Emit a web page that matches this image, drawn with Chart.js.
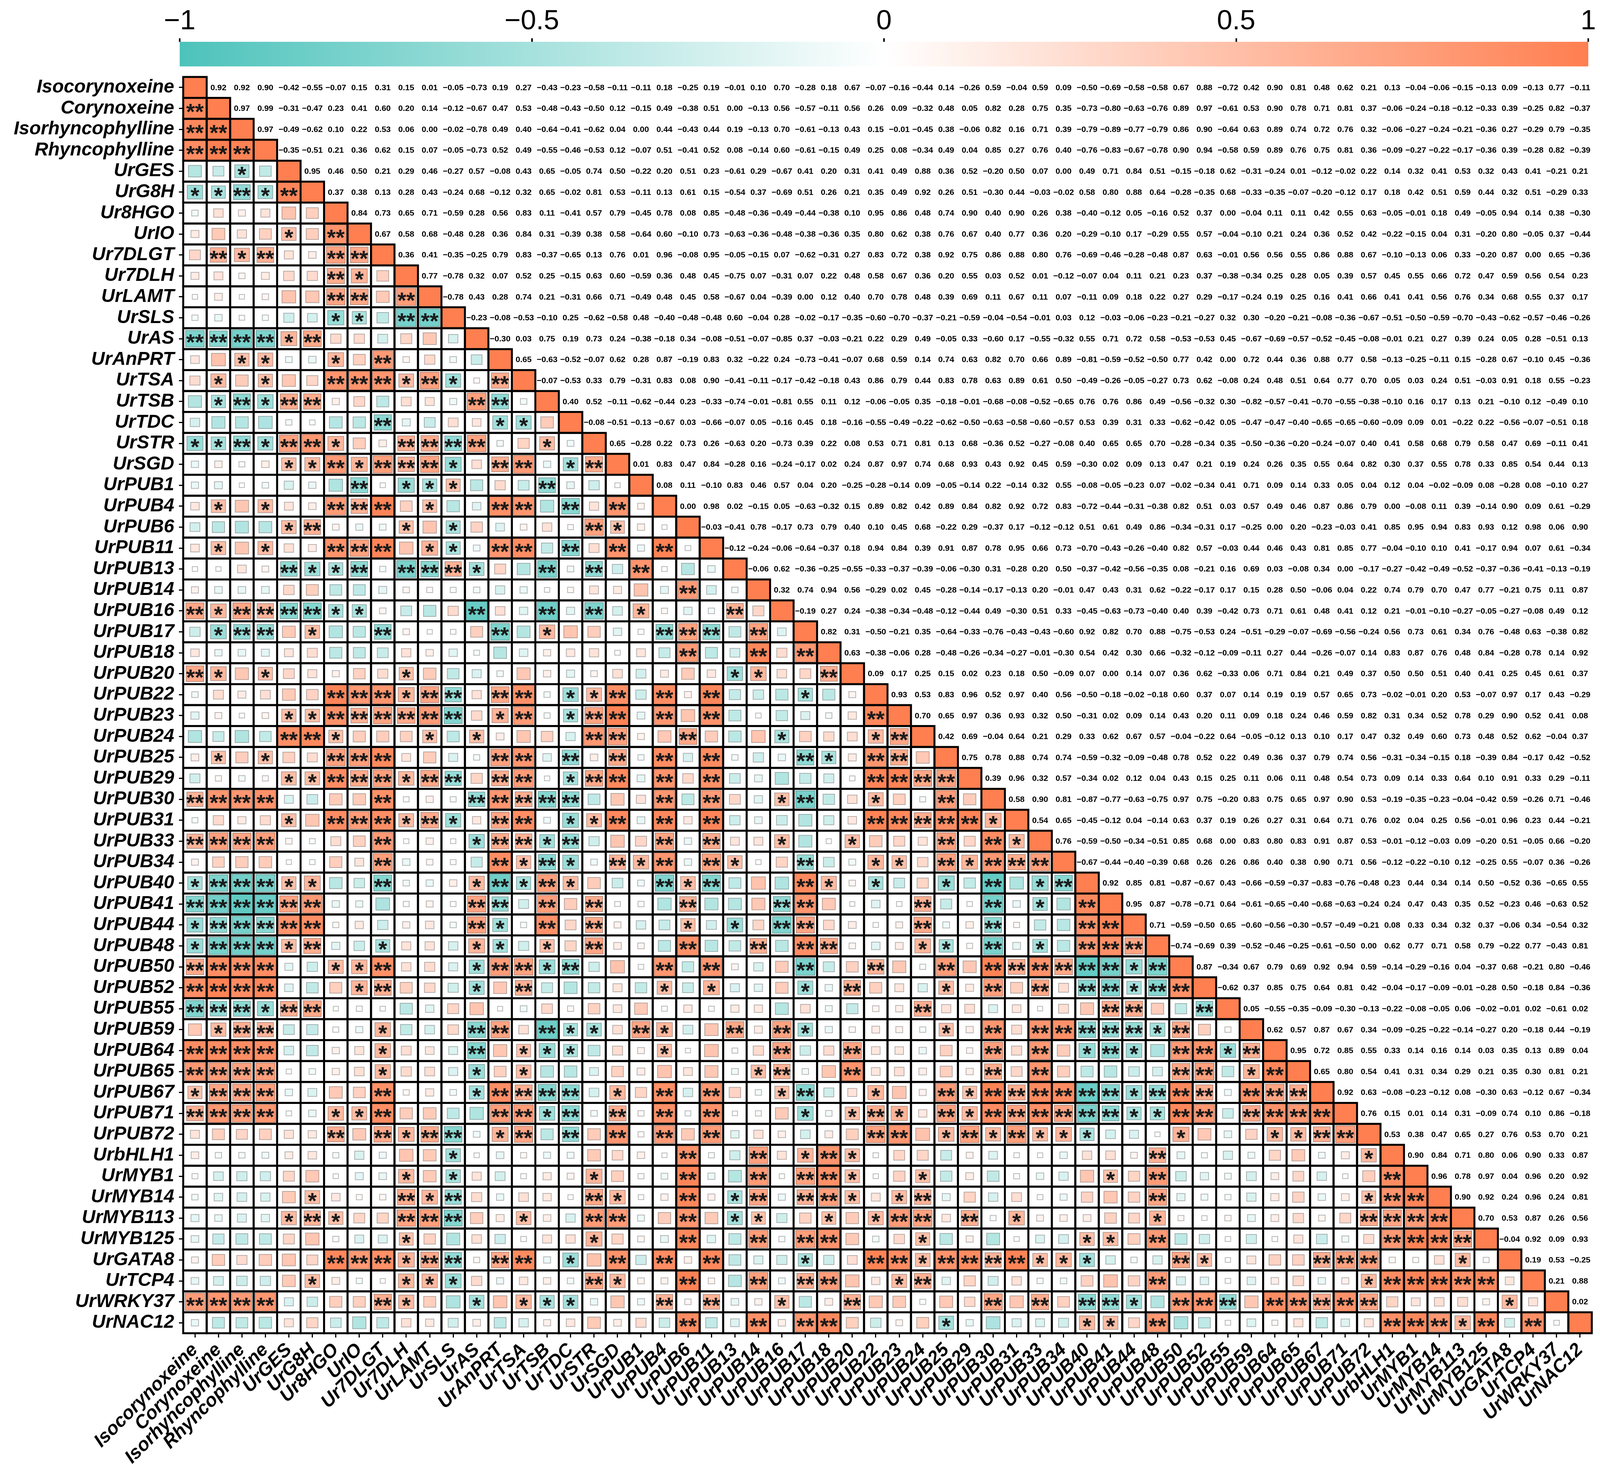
<!DOCTYPE html>
<html>
<head>
<meta charset="utf-8">
<script src="https://cdn.jsdelivr.net/npm/chart.js@4.4.1/dist/chart.umd.min.js"></script>
<style>
html,body{margin:0;padding:0;background:#ffffff;}
#wrap{position:relative;width:4102px;height:3758px;background:#ffffff;}
#main{position:absolute;left:0;top:0;}
#bar{position:absolute;left:0;top:0;}
</style>
</head>
<body>
<div id="wrap">
<canvas id="main" width="4102" height="3758"></canvas>
<canvas id="bar" width="4102" height="185"></canvas>
</div>
<script>
// ---------- data ----------
const variables = ["Isocorynoxeine","Corynoxeine","Isorhyncophylline","Rhyncophylline","UrGES","UrG8H","Ur8HGO","UrIO","Ur7DLGT","Ur7DLH","UrLAMT","UrSLS","UrAS","UrAnPRT","UrTSA","UrTSB","UrTDC","UrSTR","UrSGD","UrPUB1","UrPUB4","UrPUB6","UrPUB11","UrPUB13","UrPUB14","UrPUB16","UrPUB17","UrPUB18","UrPUB20","UrPUB22","UrPUB23","UrPUB24","UrPUB25","UrPUB29","UrPUB30","UrPUB31","UrPUB33","UrPUB34","UrPUB40","UrPUB41","UrPUB44","UrPUB48","UrPUB50","UrPUB52","UrPUB55","UrPUB59","UrPUB64","UrPUB65","UrPUB67","UrPUB71","UrPUB72","UrbHLH1","UrMYB1","UrMYB14","UrMYB113","UrMYB125","UrGATA8","UrTCP4","UrWRKY37","UrNAC12"];

// upper-triangle correlations: rowNN holds r(row NN, columns NN+1 .. 60)
const row01 = [0.92,0.92,0.90,-0.42,-0.55,-0.07,0.15,0.31,0.15,0.01,-0.05,-0.73,0.19,0.27,-0.43,-0.23,-0.58,-0.11,-0.11,0.18, -0.25,0.19,-0.01,0.10,0.70,-0.28,0.18,0.67,-0.07,-0.16,-0.44,0.14,-0.26,0.59,-0.04,0.59,0.09,-0.50,-0.69,-0.58, -0.58,0.67,0.88,-0.72,0.42,0.90,0.81,0.48,0.62,0.21,0.13,-0.04,-0.06,-0.15,-0.13,0.09,-0.13,0.77,-0.11];
const row02 = [0.97,0.99,-0.31,-0.47,0.23,0.41,0.60,0.20,0.14,-0.12,-0.67,0.47,0.53,-0.48,-0.43,-0.50,0.12,-0.15,0.49, -0.38,0.51,0.00,-0.13,0.56,-0.57,-0.11,0.56,0.26,0.09,-0.32,0.48,0.05,0.82,0.28,0.75,0.35,-0.73,-0.80,-0.63, -0.76,0.89,0.97,-0.61,0.53,0.90,0.78,0.71,0.81,0.37,-0.06,-0.24,-0.18,-0.12,-0.33,0.39,-0.25,0.82,-0.37];
const row03 = [0.97,-0.49,-0.62,0.10,0.22,0.53,0.06,0.00,-0.02,-0.78,0.49,0.40,-0.64,-0.41,-0.62,0.04,0.00,0.44, -0.43,0.44,0.19,-0.13,0.70,-0.61,-0.13,0.43,0.15,-0.01,-0.45,0.38,-0.06,0.82,0.16,0.71,0.39,-0.79,-0.89,-0.77, -0.79,0.86,0.90,-0.64,0.63,0.89,0.74,0.72,0.76,0.32,-0.06,-0.27,-0.24,-0.21,-0.36,0.27,-0.29,0.79,-0.35];
const row04 = [-0.35,-0.51,0.21,0.36,0.62,0.15,0.07,-0.05,-0.73,0.52,0.49,-0.55,-0.46,-0.53,0.12,-0.07,0.51, -0.41,0.52,0.08,-0.14,0.60,-0.61,-0.15,0.49,0.25,0.08,-0.34,0.49,0.04,0.85,0.27,0.76,0.40,-0.76,-0.83,-0.67, -0.78,0.90,0.94,-0.58,0.59,0.89,0.76,0.75,0.81,0.36,-0.09,-0.27,-0.22,-0.17,-0.36,0.39,-0.28,0.82,-0.39];
const row05 = [0.95,0.46,0.50,0.21,0.29,0.46,-0.27,0.57,-0.08,0.43,0.65,-0.05,0.74,0.50,-0.22,0.20, 0.51,0.23,-0.61,0.29,-0.67,0.41,0.20,0.31,0.41,0.49,0.88,0.36,0.52,-0.20,0.50,0.07,0.00,0.49,0.71,0.84, 0.51,-0.15,-0.18,0.62,-0.31,-0.24,0.01,-0.12,-0.02,0.22,0.14,0.32,0.41,0.53,0.32,0.43,0.41,-0.21,0.21];
const row06 = [0.37,0.38,0.13,0.28,0.43,-0.24,0.68,-0.12,0.32,0.65,-0.02,0.81,0.53,-0.11,0.13, 0.61,0.15,-0.54,0.37,-0.69,0.51,0.26,0.21,0.35,0.49,0.92,0.26,0.51,-0.30,0.44,-0.03,-0.02,0.58,0.80,0.88, 0.64,-0.28,-0.35,0.68,-0.33,-0.35,-0.07,-0.20,-0.12,0.17,0.18,0.42,0.51,0.59,0.44,0.32,0.51,-0.29,0.33];
const row07 = [0.84,0.73,0.65,0.71,-0.59,0.28,0.56,0.83,0.11,-0.41,0.57,0.79,-0.45,0.78, 0.08,0.85,-0.48,-0.36,-0.49,-0.44,-0.38,0.10,0.95,0.86,0.48,0.74,0.90,0.40,0.90,0.26,0.38,-0.40,-0.12,0.05, -0.16,0.52,0.37,0.00,-0.04,0.11,0.11,0.42,0.55,0.63,-0.05,-0.01,0.18,0.49,-0.05,0.94,0.14,0.38,-0.30];
const row08 = [0.67,0.58,0.68,-0.48,0.28,0.36,0.84,0.31,-0.39,0.38,0.58,-0.64,0.60, -0.10,0.73,-0.63,-0.36,-0.48,-0.38,-0.36,0.35,0.80,0.62,0.38,0.76,0.67,0.40,0.77,0.36,0.20,-0.29,-0.10,0.17, -0.29,0.55,0.57,-0.04,-0.10,0.21,0.24,0.36,0.52,0.42,-0.22,-0.15,0.04,0.31,-0.20,0.80,-0.05,0.37,-0.44];
const row09 = [0.36,0.41,-0.35,-0.25,0.79,0.83,-0.37,-0.65,0.13,0.76,0.01,0.96, -0.08,0.95,-0.05,-0.15,0.07,-0.62,-0.31,0.27,0.83,0.72,0.38,0.92,0.75,0.86,0.88,0.80,0.76,-0.69,-0.46,-0.28, -0.48,0.87,0.63,-0.01,0.56,0.56,0.55,0.86,0.88,0.67,-0.10,-0.13,0.06,0.33,-0.20,0.87,0.00,0.65,-0.36];
const row10 = [0.77,-0.78,0.32,0.07,0.52,0.25,-0.15,0.63,0.60,-0.59,0.36, 0.48,0.45,-0.75,0.07,-0.31,0.07,0.22,0.48,0.58,0.67,0.36,0.20,0.55,0.03,0.52,0.01,-0.12,-0.07,0.04,0.11, 0.21,0.23,0.37,-0.38,-0.34,0.25,0.28,0.05,0.39,0.57,0.45,0.55,0.66,0.72,0.47,0.59,0.56,0.54,0.23];
const row11 = [-0.78,0.43,0.28,0.74,0.21,-0.31,0.66,0.71,-0.49,0.48, 0.45,0.58,-0.67,0.04,-0.39,0.00,0.12,0.40,0.70,0.78,0.48,0.39,0.69,0.11,0.67,0.11,0.07,-0.11,0.09,0.18, 0.22,0.27,0.29,-0.17,-0.24,0.19,0.25,0.16,0.41,0.66,0.41,0.41,0.56,0.76,0.34,0.68,0.55,0.37,0.17];
const row12 = [-0.23,-0.08,-0.53,-0.10,0.25,-0.62,-0.58,0.48,-0.40, -0.48,-0.48,0.60,-0.04,0.28,-0.02,-0.17,-0.35,-0.60,-0.70,-0.37,-0.21,-0.59,-0.04,-0.54,-0.01,0.03,0.12,-0.03,-0.06, -0.23,-0.21,-0.27,0.32,0.30,-0.20,-0.21,-0.08,-0.36,-0.67,-0.51,-0.50,-0.59,-0.70,-0.43,-0.62,-0.57,-0.46,-0.26];
const row13 = [-0.30,0.03,0.75,0.19,0.73,0.24,-0.38,-0.18, 0.34,-0.08,-0.51,-0.07,-0.85,0.37,-0.03,-0.21,0.22,0.29,0.49,-0.05,0.33,-0.60,0.17,-0.55,-0.32,0.55,0.71,0.72, 0.58,-0.53,-0.53,0.45,-0.67,-0.69,-0.57,-0.52,-0.45,-0.08,-0.01,0.21,0.27,0.39,0.24,0.05,0.28,-0.51,0.13];
const row14 = [0.65,-0.63,-0.52,-0.07,0.62,0.28,0.87, -0.19,0.83,0.32,-0.22,0.24,-0.73,-0.41,-0.07,0.68,0.59,0.14,0.74,0.63,0.82,0.70,0.66,0.89,-0.81,-0.59,-0.52, -0.50,0.77,0.42,0.00,0.72,0.44,0.36,0.88,0.77,0.58,-0.13,-0.25,-0.11,0.15,-0.28,0.67,-0.10,0.45,-0.36];
const row15 = [-0.07,-0.53,0.33,0.79,-0.31,0.83, 0.08,0.90,-0.41,-0.11,-0.17,-0.42,-0.18,0.43,0.86,0.79,0.44,0.83,0.78,0.63,0.89,0.61,0.50,-0.49,-0.26,-0.05, -0.27,0.73,0.62,-0.08,0.24,0.48,0.51,0.64,0.77,0.70,0.05,0.03,0.24,0.51,-0.03,0.91,0.18,0.55,-0.23];
const row16 = [0.40,0.52,-0.11,-0.62,-0.44, 0.23,-0.33,-0.74,-0.01,-0.81,0.55,0.11,0.12,-0.06,-0.05,0.35,-0.18,-0.01,-0.68,-0.08,-0.52,-0.65,0.76,0.76,0.86, 0.49,-0.56,-0.32,0.30,-0.82,-0.57,-0.41,-0.70,-0.55,-0.38,-0.10,0.16,0.17,0.13,0.21,-0.10,0.12,-0.49,0.10];
const row17 = [-0.08,-0.51,-0.13,-0.67, 0.03,-0.66,-0.07,0.05,-0.16,0.45,0.18,-0.16,-0.55,-0.49,-0.22,-0.62,-0.50,-0.63,-0.58,-0.60,-0.57,0.53,0.39,0.31, 0.33,-0.62,-0.42,0.05,-0.47,-0.47,-0.40,-0.65,-0.65,-0.60,-0.09,0.09,0.01,-0.22,0.22,-0.56,-0.07,-0.51,0.18];
const row18 = [0.65,-0.28,0.22, 0.73,0.26,-0.63,0.20,-0.73,0.39,0.22,0.08,0.53,0.71,0.81,0.13,0.68,-0.36,0.52,-0.27,-0.08,0.40,0.65,0.65, 0.70,-0.28,-0.34,0.35,-0.50,-0.36,-0.20,-0.24,-0.07,0.40,0.41,0.58,0.68,0.79,0.58,0.47,0.69,-0.11,0.41];
const row19 = [0.01,0.83, 0.47,0.84,-0.28,0.16,-0.24,-0.17,0.02,0.24,0.87,0.97,0.74,0.68,0.93,0.43,0.92,0.45,0.59,-0.30,0.02,0.09, 0.13,0.47,0.21,0.19,0.24,0.26,0.35,0.55,0.64,0.82,0.30,0.37,0.55,0.78,0.33,0.85,0.54,0.44,0.13];
const row20 = [0.08, 0.11,-0.10,0.83,0.46,0.57,0.04,0.20,-0.25,-0.28,-0.14,0.09,-0.05,-0.14,0.22,-0.14,0.32,0.55,-0.08,-0.05,-0.23, 0.07,-0.02,-0.34,0.41,0.71,0.09,0.14,0.33,0.05,0.04,0.12,0.04,-0.02,-0.09,0.08,-0.28,0.08,-0.10,0.27];
const row21 = [0.00,0.98,0.02,-0.15,0.05,-0.63,-0.32,0.15,0.89,0.82,0.42,0.89,0.84,0.82,0.92,0.72,0.83,-0.72,-0.44,-0.31, -0.38,0.82,0.51,0.03,0.57,0.49,0.46,0.87,0.86,0.79,0.00,-0.08,0.11,0.39,-0.14,0.90,0.09,0.61,-0.29];
const row22 = [-0.03,-0.41,0.78,-0.17,0.73,0.79,0.40,0.10,0.45,0.68,-0.22,0.29,-0.37,0.17,-0.12,-0.12,0.51,0.61,0.49, 0.86,-0.34,-0.31,0.17,-0.25,0.00,0.20,-0.23,-0.03,0.41,0.85,0.95,0.94,0.83,0.93,0.12,0.98,0.06,0.90];
const row23 = [-0.12,-0.24,-0.06,-0.64,-0.37,0.18,0.94,0.84,0.39,0.91,0.87,0.78,0.95,0.66,0.73,-0.70,-0.43,-0.26, -0.40,0.82,0.57,-0.03,0.44,0.46,0.43,0.81,0.85,0.77,-0.04,-0.10,0.10,0.41,-0.17,0.94,0.07,0.61,-0.34];
const row24 = [-0.06,0.62,-0.36,-0.25,-0.55,-0.33,-0.37,-0.39,-0.06,-0.30,0.31,-0.28,0.20,0.50,-0.37,-0.42,-0.56, -0.35,0.08,-0.21,0.16,0.69,0.03,-0.08,0.34,0.00,-0.17,-0.27,-0.42,-0.49,-0.52,-0.37,-0.36,-0.41,-0.13,-0.19];
const row25 = [0.32,0.74,0.94,0.56,-0.29,0.02,0.45,-0.28,-0.14,-0.17,-0.13,0.20,-0.01,0.47,0.43,0.31, 0.62,-0.22,-0.17,0.17,0.15,0.28,0.50,-0.06,0.04,0.22,0.74,0.79,0.70,0.47,0.77,-0.21,0.75,0.11,0.87];
const row26 = [-0.19,0.27,0.24,-0.38,-0.34,-0.48,-0.12,-0.44,0.49,-0.30,0.51,0.33,-0.45,-0.63,-0.73, -0.40,0.40,0.39,-0.42,0.73,0.71,0.61,0.48,0.41,0.12,0.21,-0.01,-0.10,-0.27,-0.05,-0.27,-0.08,0.49,0.12];
const row27 = [0.82,0.31,-0.50,-0.21,0.35,-0.64,-0.33,-0.76,-0.43,-0.43,-0.60,0.92,0.82,0.70, 0.88,-0.75,-0.53,0.24,-0.51,-0.29,-0.07,-0.69,-0.56,-0.24,0.56,0.73,0.61,0.34,0.76,-0.48,0.63,-0.38,0.82];
const row28 = [0.63,-0.38,-0.06,0.28,-0.48,-0.26,-0.34,-0.27,-0.01,-0.30,0.54,0.42,0.30, 0.66,-0.32,-0.12,-0.09,-0.11,0.27,0.44,-0.26,-0.07,0.14,0.83,0.87,0.76,0.48,0.84,-0.28,0.78,0.14,0.92];
const row29 = [0.09,0.17,0.25,0.15,0.02,0.23,0.18,0.50,-0.09,0.07,0.00,0.14, 0.07,0.36,0.62,-0.33,0.06,0.71,0.84,0.21,0.49,0.37,0.50,0.50,0.51,0.40,0.41,0.25,0.45,0.61,0.37];
const row30 = [0.93,0.53,0.83,0.96,0.52,0.97,0.40,0.56,-0.50,-0.18,-0.02, -0.18,0.60,0.37,0.07,0.14,0.19,0.19,0.57,0.65,0.73,-0.02,-0.01,0.20,0.53,-0.07,0.97,0.17,0.43,-0.29];
const row31 = [0.70,0.65,0.97,0.36,0.93,0.32,0.50,-0.31,0.02,0.09, 0.14,0.43,0.20,0.11,0.09,0.18,0.24,0.46,0.59,0.82,0.31,0.34,0.52,0.78,0.29,0.90,0.52,0.41,0.08];
const row32 = [0.42,0.69,-0.04,0.64,0.21,0.29,0.33,0.62,0.67, 0.57,-0.04,-0.22,0.64,-0.05,-0.12,0.13,0.10,0.17,0.47,0.32,0.49,0.60,0.73,0.48,0.52,0.62,-0.04,0.37];
const row33 = [0.75,0.78,0.88,0.74,0.74,-0.59,-0.32,-0.09, -0.48,0.78,0.52,0.22,0.49,0.36,0.37,0.79,0.74,0.56,-0.31,-0.34,-0.15,0.18,-0.39,0.84,-0.17,0.42,-0.52];
const row34 = [0.39,0.96,0.32,0.57,-0.34,0.02,0.12, 0.04,0.43,0.15,0.25,0.11,0.06,0.11,0.48,0.54,0.73,0.09,0.14,0.33,0.64,0.10,0.91,0.33,0.29,-0.11];
const row35 = [0.58,0.90,0.81,-0.87,-0.77,-0.63, -0.75,0.97,0.75,-0.20,0.83,0.75,0.65,0.97,0.90,0.53,-0.19,-0.35,-0.23,-0.04,-0.42,0.59,-0.26,0.71,-0.46];
const row36 = [0.54,0.65,-0.45,-0.12,0.04, -0.14,0.63,0.37,0.19,0.26,0.27,0.31,0.64,0.71,0.76,0.02,0.04,0.25,0.56,-0.01,0.96,0.23,0.44,-0.21];
const row37 = [0.76,-0.59,-0.50,-0.34, -0.51,0.85,0.68,0.00,0.83,0.80,0.83,0.91,0.87,0.53,-0.01,-0.12,-0.03,0.09,-0.20,0.51,-0.05,0.66,-0.20];
const row38 = [-0.67,-0.44,-0.40, -0.39,0.68,0.26,0.26,0.86,0.40,0.38,0.90,0.71,0.56,-0.12,-0.22,-0.10,0.12,-0.25,0.55,-0.07,0.36,-0.26];
const row39 = [0.92,0.85, 0.81,-0.87,-0.67,0.43,-0.66,-0.59,-0.37,-0.83,-0.76,-0.48,0.23,0.44,0.34,0.14,0.50,-0.52,0.36,-0.65,0.55];
const row40 = [0.95, 0.87,-0.78,-0.71,0.64,-0.61,-0.65,-0.40,-0.68,-0.63,-0.24,0.24,0.47,0.43,0.35,0.52,-0.23,0.46,-0.63,0.52];
const row41 = [0.71,-0.59,-0.50,0.65,-0.60,-0.56,-0.30,-0.57,-0.49,-0.21,0.08,0.33,0.34,0.32,0.37,-0.06,0.34,-0.54,0.32];
const row42 = [-0.74,-0.69,0.39,-0.52,-0.46,-0.25,-0.61,-0.50,0.00,0.62,0.77,0.71,0.58,0.79,-0.22,0.77,-0.43,0.81];
const row43 = [0.87,-0.34,0.67,0.79,0.69,0.92,0.94,0.59,-0.14,-0.29,-0.16,0.04,-0.37,0.68,-0.21,0.80,-0.46];
const row44 = [-0.62,0.37,0.85,0.75,0.64,0.81,0.42,-0.04,-0.17,-0.09,-0.01,-0.28,0.50,-0.18,0.84,-0.36];
const row45 = [0.05,-0.55,-0.35,-0.09,-0.30,-0.13,-0.22,-0.08,-0.05,0.06,-0.02,-0.01,0.02,-0.61,0.02];
const row46 = [0.62,0.57,0.87,0.67,0.34,-0.09,-0.25,-0.22,-0.14,-0.27,0.20,-0.18,0.44,-0.19];
const row47 = [0.95,0.72,0.85,0.55,0.33,0.14,0.16,0.14,0.03,0.35,0.13,0.89,0.04];
const row48 = [0.65,0.80,0.54,0.41,0.31,0.34,0.29,0.21,0.35,0.30,0.81,0.21];
const row49 = [0.92,0.63,-0.08,-0.23,-0.12,0.08,-0.30,0.63,-0.12,0.67,-0.34];
const row50 = [0.76,0.15,0.01,0.14,0.31,-0.09,0.74,0.10,0.86,-0.18];
const row51 = [0.53,0.38,0.47,0.65,0.27,0.76,0.53,0.70,0.21];
const row52 = [0.90,0.84,0.71,0.80,0.06,0.90,0.33,0.87];
const row53 = [0.96,0.78,0.97,0.04,0.96,0.20,0.92];
const row54 = [0.90,0.92,0.24,0.96,0.24,0.81];
const row55 = [0.70,0.53,0.87,0.26,0.56];
const row56 = [-0.04,0.92,0.09,0.93];
const row57 = [0.19,0.53,-0.25];
const row58 = [0.21,0.88];
const row59 = [0.02];

const upperRows = [row01,row02,row03,row04,row05,row06,row07,row08,row09,row10,row11,row12,row13,row14,row15,row16,row17,row18,row19,row20,row21,row22,row23,row24,row25,row26,row27,row28,row29,row30,row31,row32,row33,row34,row35,row36,row37,row38,row39,row40,row41,row42,row43,row44,row45,row46,row47,row48,row49,row50,row51,row52,row53,row54,row55,row56,row57,row58,row59];

const colorbarTicks = [-1, -0.5, 0, 0.5, 1];
const starLevels = [0.465, 0.595];   // |r| cut-offs for "*" and "**"
// stars read off the picture where the rounded |r| sits on a cut-off (0.47 / 0.59): [row, col, number of stars]
const boundaryStars = [
  [1,35,2],[1,37,2],[4,46,2],[6,55,2],[12,34,2],[12,54,2],[14,40,2],[19,38,2],[35,57,2],
  [7,12,1],[10,20,1],[14,31,1],[31,50,1],[33,39,1],[37,39,1],[39,47,1],[43,51,1],
  [2,6,1],[10,56,1],[17,46,1],[17,47,1],[19,22,1],[25,55,1],[40,53,1],[51,54,1],
  [2,14,0],[18,57,0],[19,43,0],[25,39,0],[32,51,0]
];

// ---------- styling ----------
const FAMILY = "'Liberation Sans', Arial, sans-serif";
const NEG = [77, 195, 187];
const POS = [255, 127, 80];

function colorFor(v) {
  const t = Math.max(-1, Math.min(1, v));
  const base = t < 0 ? NEG : POS;
  const a = Math.abs(t);
  const c = base.map(ch => Math.round(255 + (ch - 255) * a));
  return `rgb(${c[0]},${c[1]},${c[2]})`;
}
function fmtSigned(v, digits) {
  const s = Math.abs(v).toFixed(digits);
  return (v < 0 && Number(s) !== 0) ? '\u2212' + s : s;
}

// ---------- build point lists ----------
const N = variables.length;
const corr = [];
for (let i = 0; i < N; i++) corr.push(new Array(N).fill(null));
const errors = [];
upperRows.forEach((vals, i) => {
  if (vals.length !== N - 1 - i) errors.push('row ' + (i + 1) + ': ' + vals.length);
  vals.forEach((v, k) => { const j = i + 1 + k; if (j < N) { corr[i][j] = v; corr[j][i] = v; } });
});
for (let i = 0; i < N; i++) corr[i][i] = 1;

const starMap = new Map(boundaryStars.map(([r, c, n]) => [r + ',' + c, n]));
function starsFor(rowA, rowB, v) {
  const key = Math.min(rowA, rowB) + ',' + Math.max(rowA, rowB);
  let n;
  if (starMap.has(key)) n = starMap.get(key);
  else { const a = Math.abs(v); n = a >= starLevels[1] ? 2 : (a >= starLevels[0] ? 1 : 0); }
  return '*'.repeat(n);
}

const lowerPoints = [];
const upperPoints = [];
for (let i = 0; i < N; i++) {
  for (let j = 0; j < N; j++) {
    const v = corr[i][j];
    if (v === null) continue;
    if (j <= i) lowerPoints.push({x: j + 1, y: i + 1, v: v, diag: i === j, stars: i === j ? '' : starsFor(i + 1, j + 1, v)});
    else upperPoints.push({x: j + 1, y: i + 1, v: v});
  }
}

// ---------- matrix drawing plugin ----------
const matrixPlugin = {
  id: 'corrMatrix',
  afterDatasetsDraw(chart) {
    const ctx = chart.ctx;
    const xs = chart.scales.x, ys = chart.scales.y;
    const cw = Math.abs(xs.getPixelForValue(1.5) - xs.getPixelForValue(0.5));
    const ch = Math.abs(ys.getPixelForValue(1.5) - ys.getPixelForValue(0.5));
    const lowMeta = chart.getDatasetMeta(0);
    const upMeta = chart.getDatasetMeta(1);
    const lowRaw = chart.data.datasets[0].data;
    const upRaw = chart.data.datasets[1].data;
    ctx.save();

    // squares and diagonal
    lowMeta.data.forEach((pt, k) => {
      const d = lowRaw[k];
      if (d.diag) {
        ctx.fillStyle = colorFor(1);
        ctx.fillRect(pt.x - cw / 2, pt.y - ch / 2, cw, ch);
        return;
      }
      const f = Math.min(1, 0.22 + 0.8 * Math.abs(d.v));
      const w = cw * f, h = ch * f;
      ctx.fillStyle = colorFor(d.v);
      ctx.fillRect(pt.x - w / 2, pt.y - h / 2, w, h);
      if (f < 1) {
        ctx.strokeStyle = 'rgba(0,0,0,0.28)';
        ctx.lineWidth = 2;
        ctx.strokeRect(pt.x - w / 2, pt.y - h / 2, w, h);
      }
    });

    // cell borders of lower triangle + diagonal
    ctx.strokeStyle = '#000';
    ctx.lineWidth = 5;
    lowMeta.data.forEach(pt => ctx.strokeRect(pt.x - cw / 2, pt.y - ch / 2, cw, ch));

    // significance stars
    ctx.fillStyle = '#1a1a1a';
    ctx.font = `bold 58px ${FAMILY}`;
    ctx.textAlign = 'center';
    ctx.textBaseline = 'alphabetic';
    const m = ctx.measureText('*');
    const off = (m.actualBoundingBoxAscent - m.actualBoundingBoxDescent) / 2;
    lowMeta.data.forEach((pt, k) => {
      const s = lowRaw[k].stars;
      if (s) ctx.fillText(s, pt.x, pt.y + off);
    });

    // coefficient text in upper triangle
    ctx.fillStyle = '#000';
    ctx.font = `bold 21px ${FAMILY}`;
    ctx.textBaseline = 'middle';
    upMeta.data.forEach((pt, k) => {
      ctx.fillText(fmtSigned(upRaw[k].v, 2), pt.x, pt.y + 1);
    });

    if (errors.length) {
      ctx.fillStyle = 'red';
      ctx.font = `bold 60px ${FAMILY}`;
      ctx.textAlign = 'left';
      ctx.fillText('DATA ERR ' + errors.join('; '), 600, 3000);
    }
    ctx.restore();
  }
};

const labelFont = {family: FAMILY, size: 48, weight: 'bold', style: 'italic'};
const tickGrid = {display: true, drawOnChartArea: false, drawTicks: true, tickLength: 11,
                  tickWidth: 3, tickColor: '#000', color: '#000', lineWidth: 3};

new Chart(document.getElementById('main'), {
  type: 'scatter',
  data: {
    datasets: [
      {label: 'lower', data: lowerPoints, pointRadius: 0, pointHoverRadius: 0},
      {label: 'upper', data: upperPoints, pointRadius: 0, pointHoverRadius: 0}
    ]
  },
  options: {
    responsive: false,
    devicePixelRatio: 1,
    animation: false,
    events: [],
    layout: {padding: {left: 0, top: 197, right: 27, bottom: 0}},
    plugins: {legend: {display: false}, tooltip: {enabled: false}},
    scales: {
      x: {
        type: 'linear', position: 'bottom', min: 0.5, max: 60.5,
        afterBuildTicks: s => { s.ticks = variables.map((_, i) => ({value: i + 1})); },
        afterFit: s => { s.height = 345; },
        ticks: {autoSkip: false, minRotation: 45, maxRotation: 45, padding: 4, color: '#000',
                font: labelFont, callback: v => variables[Math.round(v) - 1]},
        grid: tickGrid,
        border: {display: false}
      },
      y: {
        type: 'linear', position: 'left', min: 0.5, max: 60.5, reverse: true,
        afterBuildTicks: s => { s.ticks = variables.map((_, i) => ({value: i + 1})); },
        afterFit: s => { s.width = 469; },
        ticks: {autoSkip: false, padding: 12, color: '#000', font: labelFont,
                callback: v => variables[Math.round(v) - 1]},
        grid: tickGrid,
        border: {display: false}
      }
    }
  },
  plugins: [matrixPlugin]
});

// ---------- colour bar ----------
const barPlugin = {
  id: 'colorBar',
  beforeDatasetsDraw(chart) {
    const {ctx, chartArea: a} = chart;
    const x = chart.scales.x;
    const x0 = x.getPixelForValue(colorbarTicks[0]);
    const x1 = x.getPixelForValue(colorbarTicks[colorbarTicks.length - 1]);
    const g = ctx.createLinearGradient(x0, 0, x1, 0);
    g.addColorStop(0, colorFor(-1));
    g.addColorStop(0.5, colorFor(0));
    g.addColorStop(1, colorFor(1));
    ctx.save();
    ctx.fillStyle = g;
    ctx.fillRect(x0, a.top, x1 - x0, a.bottom - a.top);
    ctx.restore();
  }
};

new Chart(document.getElementById('bar'), {
  type: 'scatter',
  data: {datasets: []},
  options: {
    responsive: false,
    devicePixelRatio: 1,
    animation: false,
    events: [],
    layout: {padding: {left: 460, right: 36, top: 0, bottom: 15}},
    plugins: {legend: {display: false}, tooltip: {enabled: false}},
    scales: {
      x: {
        type: 'linear', position: 'top', min: -1, max: 1,
        afterBuildTicks: s => { s.ticks = colorbarTicks.map(v => ({value: v})); },
        afterFit: s => { s.height = 107; },
        ticks: {autoSkip: false, minRotation: 0, maxRotation: 0, padding: 0, color: '#000',
                font: {family: FAMILY, size: 71}, callback: v => fmtSigned(v, v % 1 === 0 ? 0 : 1)},
        grid: {display: true, drawOnChartArea: false, drawTicks: true, tickLength: 9,
               tickWidth: 4, tickColor: '#000', color: '#000', lineWidth: 4},
        border: {display: false}
      },
      y: {display: false, min: 0, max: 1}
    }
  },
  plugins: [barPlugin]
});
</script>
</body>
</html>
